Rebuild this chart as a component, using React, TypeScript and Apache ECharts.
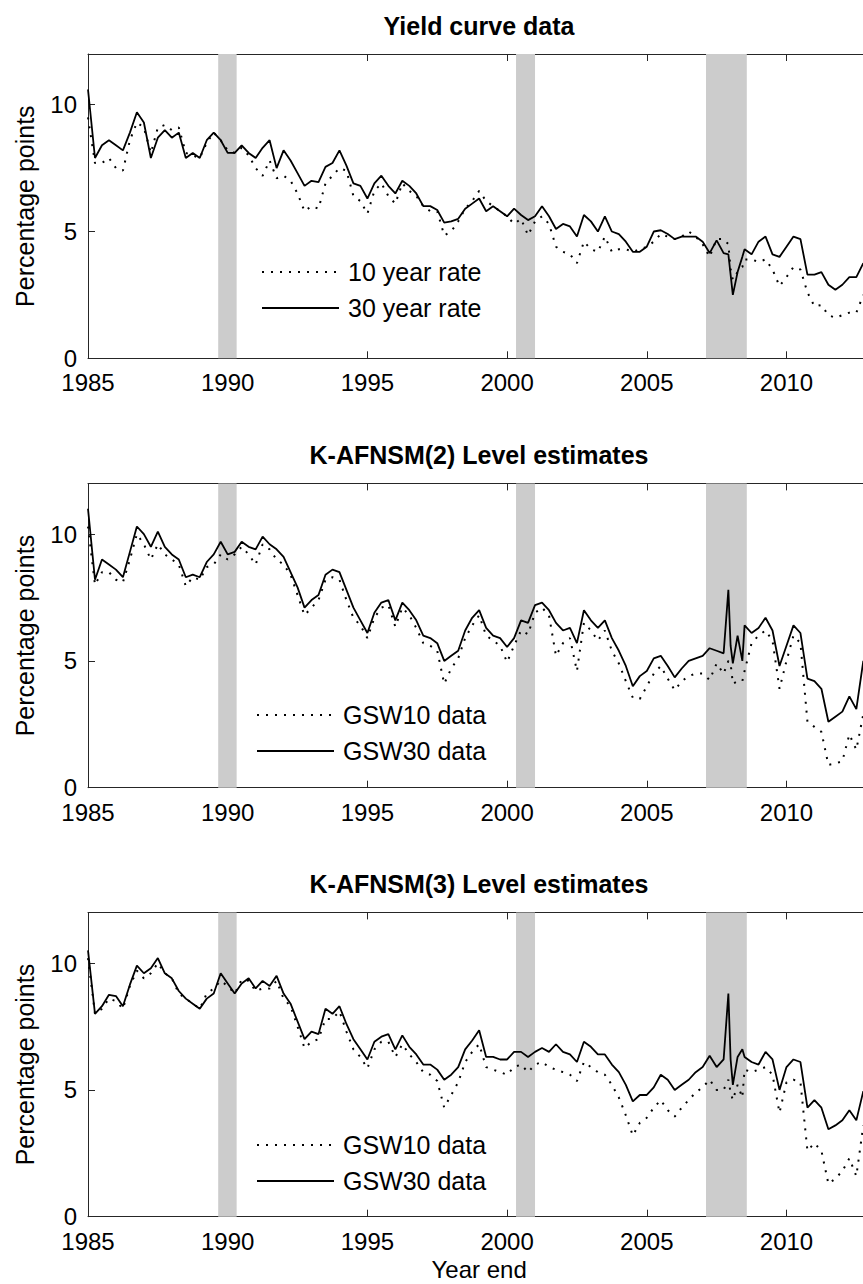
import React, { useEffect, useRef } from "react";
import * as echarts from "echarts";

const FONT = "'Liberation Sans', Arial, Helvetica, sans-serif";

// Quarterly observation dates, 1985Q1 to 2012Q4, as fractional years
const FIRST_YEAR = 1985;
const LAST_YEAR = 2012;
const QUARTERS: number[] = [];
for (let y = FIRST_YEAR; y <= LAST_YEAR; y++) {
  for (let q = 0; q < 4; q++) QUARTERS.push(y + q / 4);
}

// Additional monthly observations around the 2008 turmoil
const CRISIS_T = [2007.92, 2008.08, 2008.42];

// Shaded recession periods [start, end]
const RECESSIONS: [number, number][] = [
  [1989.66, 1990.32],
  [2000.32, 2001.0],
  [2007.12, 2008.58],
];

const X_MIN = 1985;
const X_MAX = 2013;
const Y_MIN = 0;
const Y_MAX = 12;

// ---- Yield curve data ----
const YC_10Y = [
  9.5, 7.7, 7.7, 7.9, 7.5, 7.4, 8.6, 9.3, 9.1, 8.1, 9.1, 9.2, 9.0, 9.1, 8.1, 8.0,
  7.9, 8.5, 8.9, 8.6, 8.2, 8.1, 8.3, 8.0, 7.5, 7.2, 7.8, 7.1, 7.2, 7.0, 6.5, 5.8,
  6.0, 5.9, 6.9, 7.2, 7.5, 7.4, 6.4, 6.2, 5.7, 6.6, 6.9, 6.4, 6.1, 6.9, 6.6, 6.4,
  6.0, 5.8, 5.8, 4.85, 5.0, 5.4, 5.9, 6.2, 6.6, 6.2, 6.0, 5.8, 5.6, 5.3, 5.5, 4.85,
  5.4, 5.6, 5.3, 4.4, 4.2, 4.1, 3.75, 4.6, 4.3, 4.2, 4.8, 4.2, 4.3, 4.3, 4.2, 4.3,
  4.4, 4.6, 4.9, 4.8, 4.7, 4.8, 5.0, 4.8, 4.5, 4.0, 4.7, 4.7, 3.5, 3.4, 3.9, 3.9,
  3.8, 3.9, 3.5, 2.85, 3.2, 3.6, 3.5, 2.6, 2.05, 2.1, 1.7, 1.6, 1.7, 1.8, 1.8, 2.5,
];
const YC_30Y = [
  10.6, 7.9, 8.4, 8.6, 8.4, 8.2, 8.9, 9.7, 9.3, 7.9, 8.7, 9.0, 8.7, 8.9, 7.9, 8.1,
  7.9, 8.6, 8.9, 8.6, 8.1, 8.1, 8.4, 8.1, 7.9, 8.3, 8.6, 7.5, 8.2, 7.8, 7.3, 6.8,
  7.0, 6.95, 7.55, 7.7, 8.2, 7.6, 6.9, 6.8, 6.3, 6.9, 7.2, 6.8, 6.5, 7.0, 6.8, 6.5,
  6.0, 6.0, 5.85, 5.35, 5.4, 5.5, 5.9, 6.1, 6.3, 5.8, 6.0, 5.8, 5.6, 5.9, 5.65, 5.45,
  5.6, 6.0, 5.6, 5.1, 5.3, 5.2, 4.8, 5.65, 5.4, 5.0, 5.6, 5.0, 4.9, 4.6, 4.2, 4.2,
  4.4, 5.0, 5.05, 4.9, 4.7, 4.8, 4.8, 4.8, 4.6, 4.15, 4.65, 4.15, 3.3, 3.4, 4.3, 4.1,
  4.6, 4.8, 4.1, 4.0, 4.4, 4.8, 4.7, 3.3, 3.3, 3.4, 2.9, 2.7, 2.9, 3.2, 3.2, 3.75,
];
const YC_10Y_CRISIS = [4.5, 3.1, 3.6];
const YC_30Y_CRISIS = [4.1, 2.5, 4.0];

// ---- K-AFNSM(2) Level estimates ----
const K2_GSW10 = [
  10.3, 8.0, 8.5, 8.5, 8.2, 8.1, 9.0, 10.0, 9.6, 9.0, 9.6, 9.2, 9.0, 8.8, 7.95, 8.3,
  8.2, 8.7, 8.8, 9.2, 9.0, 9.2, 9.5, 9.2, 8.8, 9.6, 9.4, 9.0, 8.8, 8.4, 7.6, 6.8,
  7.1, 7.4, 8.2, 8.3, 8.2, 7.4, 6.7, 6.4, 5.9, 6.7, 7.1, 7.2, 6.35, 7.1, 6.8, 6.3,
  5.7, 5.6, 5.4, 4.1, 4.7, 5.1, 5.9, 6.4, 6.8, 6.0, 5.8, 5.6, 4.95, 5.6, 6.2, 6.05,
  6.9, 7.1, 6.8, 5.2, 5.7, 5.9, 4.6, 6.5, 6.2, 5.8, 6.2, 5.4, 4.9, 4.2, 3.55, 3.5,
  4.0, 4.5, 4.8, 4.3, 3.85, 4.2, 4.4, 4.5, 4.5, 4.25, 4.9, 4.5, 4.9, 4.2, 4.6, 5.7,
  6.0, 6.2, 5.8, 3.9, 5.0, 6.0, 5.7, 2.6, 2.4, 2.2, 0.9, 0.95, 1.05, 2.1, 1.5, 2.9,
];
const K2_GSW30 = [
  11.0, 8.2, 9.0, 8.8, 8.6, 8.3, 9.3, 10.3, 10.0, 9.5, 10.1, 9.5, 9.2, 9.0, 8.3, 8.4,
  8.3, 8.9, 9.2, 9.7, 9.2, 9.3, 9.7, 9.5, 9.4, 9.9, 9.6, 9.4, 9.1, 8.5, 7.9, 7.1,
  7.4, 7.6, 8.4, 8.6, 8.5, 7.8, 7.1, 6.6, 6.1, 6.9, 7.3, 7.4, 6.6, 7.3, 7.0, 6.6,
  6.0, 5.9, 5.7, 5.0, 5.2, 5.4, 6.2, 6.7, 7.0, 6.3, 6.0, 5.9, 5.55, 5.9, 6.6, 6.5,
  7.2, 7.3, 7.0, 6.5, 6.2, 6.3, 5.7, 7.0, 6.6, 6.3, 6.6, 5.9, 5.4, 4.8, 4.0, 4.4,
  4.6, 5.1, 5.2, 4.8, 4.35, 4.7, 5.0, 5.1, 5.2, 5.5, 5.4, 5.3, 5.6, 6.0, 6.4, 6.1,
  6.3, 6.7, 6.2, 4.8, 5.6, 6.4, 6.1, 4.3, 4.2, 3.9, 2.6, 2.8, 3.0, 3.6, 3.1, 5.0,
];
const K2_GSW10_CRISIS = [5.0, 4.1, 4.2];
const K2_GSW30_CRISIS = [7.8, 4.9, 5.0];

// ---- K-AFNSM(3) Level estimates ----
const K3_GSW10 = [
  10.2, 8.0, 8.2, 8.6, 8.5, 8.2, 9.1, 9.7, 9.4, 9.6, 10.0, 9.6, 9.4, 8.8, 8.6, 8.4,
  8.2, 8.8, 9.0, 9.3, 9.1, 8.8, 9.35, 9.3, 8.9, 9.0, 9.0, 9.3, 8.6, 8.3, 7.5, 6.65,
  6.9, 7.0, 7.8, 7.8, 8.1, 7.3, 6.6, 6.3, 5.85, 6.6, 6.9, 6.9, 6.3, 6.8, 6.4, 6.1,
  5.7, 5.6, 5.35, 4.3, 4.8, 5.3, 6.1, 6.5, 6.8, 5.9, 5.8, 5.7, 5.6, 5.9, 6.0, 5.7,
  6.0, 6.1, 5.9, 5.8, 5.7, 5.6, 5.35, 6.1, 5.9, 5.7, 5.6, 5.2, 4.7, 4.0, 3.2, 3.7,
  3.9, 4.3, 4.6, 4.2, 3.95, 4.3, 4.6, 4.9, 5.1, 5.4, 5.0, 5.0, 4.9, 5.2, 5.8, 5.7,
  5.8, 5.9, 5.6, 4.1, 5.3, 5.4, 5.3, 2.6, 2.9, 2.6, 1.3, 1.5, 1.8, 2.3, 1.6, 3.6,
];
const K3_GSW30 = [
  10.5, 8.0, 8.3, 8.75, 8.7, 8.3, 9.15, 9.9, 9.6, 9.8, 10.2, 9.6, 9.4, 8.9, 8.6, 8.4,
  8.2, 8.6, 8.8, 9.6, 9.2, 8.8, 9.2, 9.4, 9.0, 9.3, 9.1, 9.5, 8.8, 8.4, 7.7, 7.0,
  7.3, 7.2, 8.2, 8.0, 8.3, 7.6, 7.0, 6.6, 6.2, 6.9, 7.1, 7.2, 6.6, 7.15, 6.7, 6.4,
  6.0, 6.0, 5.8, 5.4, 5.6, 5.9, 6.6, 6.95, 7.35, 6.3, 6.3, 6.2, 6.2, 6.5, 6.5, 6.3,
  6.5, 6.65, 6.5, 6.8, 6.5, 6.4, 6.1, 6.9, 6.7, 6.4, 6.4, 6.0, 5.7, 5.2, 4.55, 4.8,
  4.8, 5.1, 5.6, 5.4, 5.0, 5.2, 5.4, 5.7, 5.9, 6.35, 5.9, 6.2, 6.2, 6.3, 6.3, 6.1,
  6.0, 6.5, 6.2, 5.0, 5.9, 6.2, 6.1, 4.3, 4.6, 4.3, 3.45, 3.6, 3.8, 4.2, 3.8, 4.95,
];
const K3_GSW10_CRISIS = [5.4, 4.6, 4.7];
const K3_GSW30_CRISIS = [8.8, 5.2, 6.6];

type Panel = {
  title: string;
  dottedName: string;
  solidName: string;
  dotted: number[];
  solid: number[];
  dottedCrisis: number[];
  solidCrisis: number[];
  top: number;
  legendLeft: number;
  legendTop: number;
  xName?: string;
};

const PANELS: Panel[] = [
  {
    title: "Yield curve data",
    dottedName: "10 year rate",
    solidName: "30 year rate",
    dotted: YC_10Y,
    solid: YC_30Y,
    dottedCrisis: YC_10Y_CRISIS,
    solidCrisis: YC_30Y_CRISIS,
    top: 54,
    legendLeft: 261,
    legendTop: 257,
  },
  {
    title: "K-AFNSM(2) Level estimates",
    dottedName: "GSW10 data",
    solidName: "GSW30 data",
    dotted: K2_GSW10,
    solid: K2_GSW30,
    dottedCrisis: K2_GSW10_CRISIS,
    solidCrisis: K2_GSW30_CRISIS,
    top: 483.4,
    legendLeft: 256,
    legendTop: 700,
  },
  {
    title: "K-AFNSM(3) Level estimates",
    dottedName: "GSW10 data",
    solidName: "GSW30 data",
    dotted: K3_GSW10,
    solid: K3_GSW30,
    dottedCrisis: K3_GSW10_CRISIS,
    solidCrisis: K3_GSW30_CRISIS,
    top: 912.4,
    legendLeft: 256,
    legendTop: 1130,
    xName: "Year end",
  },
];

const GRID_LEFT = 88;
const GRID_WIDTH = 782.3;
const GRID_HEIGHT = 304.3;
const AXIS_COLOR = "#262626";
const TICK_FONT = 24;

function toPairs(values: number[], extra: number[]): [number, number][] {
  const pts: [number, number][] = QUARTERS.map((t, i) => [t, values[i]]);
  CRISIS_T.forEach((t, i) => pts.push([t, extra[i]]));
  pts.sort((a, b) => a[0] - b[0]);
  return pts;
}

const tickLabel = (v: number) => (v % 5 === 0 ? String(v) : "");

function buildOption(): echarts.EChartsOption {
  const grids: any[] = [];
  const xAxes: any[] = [];
  const yAxes: any[] = [];
  const series: any[] = [];
  const titles: any[] = [];
  const legends: any[] = [];

  PANELS.forEach((p, i) => {
    grids.push({
      left: GRID_LEFT,
      top: p.top,
      width: GRID_WIDTH,
      height: GRID_HEIGHT,
      outerBoundsMode: "none",
    });

    titles.push({
      text: p.title,
      left: 479,
      top: p.top - 40.5,
      textAlign: "center",
      padding: 0,
      textStyle: { fontFamily: FONT, fontSize: 25, fontWeight: "bold", color: "#000" },
    });

    const axisLine = { show: true, lineStyle: { color: AXIS_COLOR, width: 1 } };
    const axisTick = { show: true, inside: true, length: 7, lineStyle: { color: AXIS_COLOR } };

    xAxes.push({
      type: "value",
      gridIndex: i,
      position: "bottom",
      min: X_MIN,
      max: X_MAX,
      interval: 5,
      axisLine,
      axisTick,
      splitLine: { show: false },
      axisLabel: {
        margin: 15.5,
        fontFamily: FONT,
        fontSize: TICK_FONT,
        lineHeight: 18,
        color: "#000",
        formatter: tickLabel,
      },
      name: p.xName ?? "",
      nameLocation: "middle",
      nameGap: 43,
      nameTextStyle: { fontFamily: FONT, fontSize: 24, lineHeight: 20, color: "#000" },
    });
    xAxes.push({
      type: "value",
      gridIndex: i,
      position: "top",
      min: X_MIN,
      max: X_MAX,
      interval: 5,
      axisLine,
      axisTick,
      splitLine: { show: false },
      axisLabel: { show: false },
    });

    yAxes.push({
      type: "value",
      gridIndex: i,
      min: Y_MIN,
      max: Y_MAX,
      interval: 5,
      axisLine,
      axisTick,
      splitLine: { show: false },
      axisLabel: {
        margin: 11,
        fontFamily: FONT,
        fontSize: TICK_FONT,
        lineHeight: 18,
        color: "#000",
        formatter: tickLabel,
      },
      name: "Percentage points",
      nameLocation: "middle",
      nameGap: 51,
      nameTextStyle: { fontFamily: FONT, fontSize: 25, color: "#000" },
    });

    // recession shading
    series.push({
      type: "custom",
      xAxisIndex: i * 2,
      yAxisIndex: i,
      z: 1,
      silent: true,
      encode: { x: [0, 1] },
      data: RECESSIONS,
      renderItem: (_params: any, api: any) => {
        const a = api.coord([api.value(0), Y_MAX]);
        const b = api.coord([api.value(1), Y_MIN]);
        return {
          type: "rect",
          shape: { x: a[0], y: a[1], width: b[0] - a[0], height: b[1] - a[1] },
          style: { fill: "#cccccc" },
        };
      },
    });

    series.push({
      type: "line",
      name: p.dottedName,
      xAxisIndex: i * 2,
      yAxisIndex: i,
      z: 3,
      symbol: "none",
      showSymbol: false,
      silent: true,
      data: toPairs(p.dotted, p.dottedCrisis),
      lineStyle: { color: "#000", width: 2, type: [2, 7] },
      itemStyle: { color: "#000" },
    });
    series.push({
      type: "line",
      name: p.solidName,
      xAxisIndex: i * 2,
      yAxisIndex: i,
      z: 4,
      symbol: "none",
      showSymbol: false,
      silent: true,
      data: toPairs(p.solid, p.solidCrisis),
      lineStyle: { color: "#000", width: 1.8, type: "solid" },
      itemStyle: { color: "#000" },
    });

    legends.push({
      data: [p.dottedName, p.solidName],
      orient: "vertical",
      left: p.legendLeft,
      top: p.legendTop,
      itemWidth: 77,
      itemHeight: 14,
      itemGap: 6,
      padding: 0,
      selectedMode: false,
      // line samples only, no marker in the middle
      itemStyle: { color: "rgba(0,0,0,0)", borderWidth: 0, opacity: 0 },
      textStyle: {
        fontFamily: FONT,
        fontSize: 25,
        color: "#000",
        lineHeight: 30,
        padding: [0, 0, 0, 4],
      },
    });
  });

  return {
    animation: false,
    backgroundColor: "#ffffff",
    title: titles,
    legend: legends,
    grid: grids,
    xAxis: xAxes,
    yAxis: yAxes,
    series,
  } as any;
}

export default function App() {
  const ref = useRef<HTMLDivElement>(null);

  useEffect(() => {
    if (!ref.current) return;
    const chart = echarts.init(ref.current, undefined, { renderer: "svg" });
    chart.setOption(buildOption());
    return () => chart.dispose();
  }, []);

  return (
    <div
      style={{
        position: "absolute",
        left: 0,
        top: 0,
        width: 863,
        height: 1284,
        overflow: "hidden",
        background: "#fff",
      }}
    >
      <div ref={ref} style={{ width: 880, height: 1284 }} />
    </div>
  );
}
